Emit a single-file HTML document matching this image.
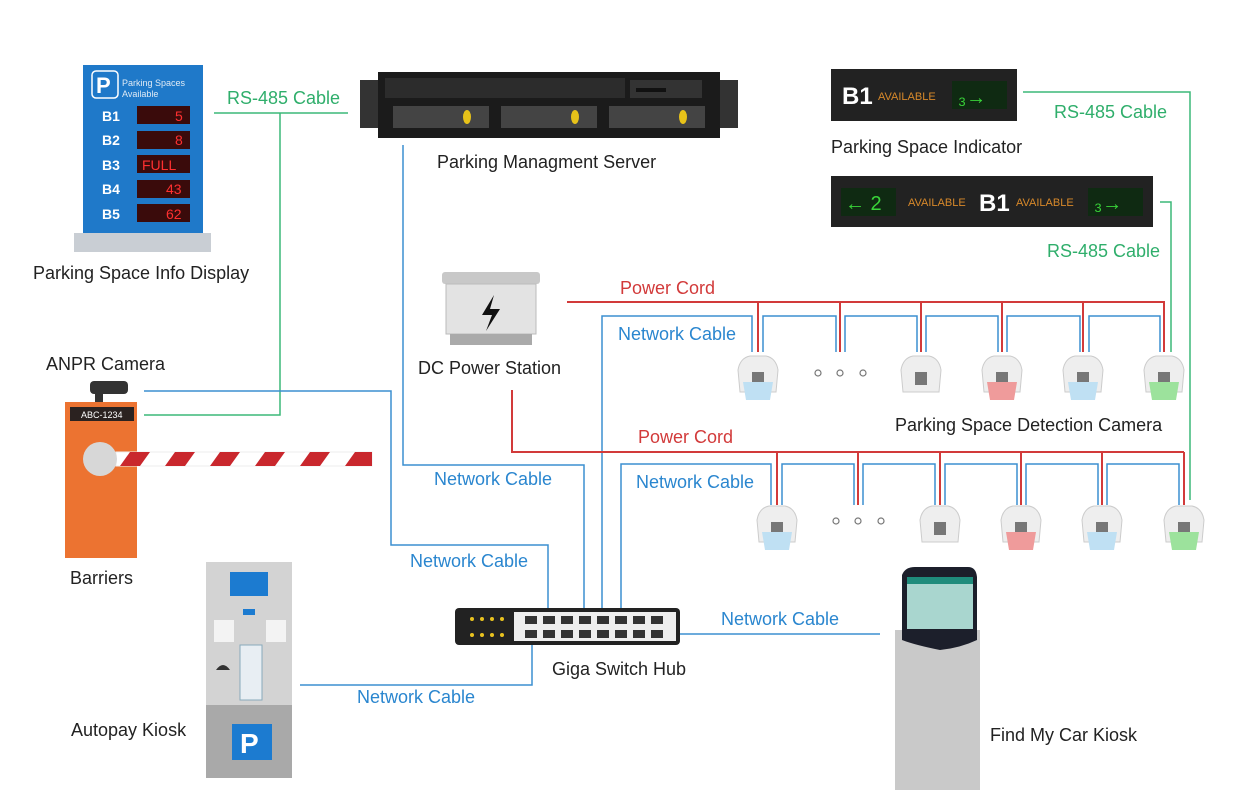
<!DOCTYPE html>
<html><head><meta charset="utf-8"><style>
html,body{margin:0;padding:0;background:#fff}
svg{display:block}
text{font-family:"Liberation Sans",sans-serif}
</style></head><body>
<svg width="1235" height="800" viewBox="0 0 1235 800" xmlns="http://www.w3.org/2000/svg">
<rect width="1235" height="800" fill="#fff"/>
<g fill="none" stroke-width="1.5">
<path d="M214 113H348M280 113V415H144" stroke="#3cb878"/>
<path d="M1023 92H1190V500" stroke="#3cb878"/>
<path d="M1160 202H1171V352" stroke="#3cb878"/>
<path d="M144 391H391V545H548V612" stroke="#3b8fd0"/>
<path d="M403 145V465H584V612" stroke="#3b8fd0"/>
<path d="M602 612V316H752V352" stroke="#3b8fd0"/>
<path d="M621 612V464H771V505" stroke="#3b8fd0"/>
<path d="M532 642V685H300" stroke="#3b8fd0"/>
<path d="M676 634H880" stroke="#3b8fd0"/>
<path d="M763 352V316H836V352M845 352V316H917V352M926 352V316H998V352M1007 352V316H1080V352M1089 352V316H1160V352" stroke="#3b8fd0"/>
<path d="M782 505V464H854V505M863 505V464H935V505M945 505V464H1017V505M1026 505V464H1098V505M1107 505V464H1179V505" stroke="#3b8fd0"/>
</g>
<g fill="none" stroke="#d23a3a" stroke-width="2">
<path d="M567 302H1165M758 302V352M840 302V352M921 302V352M1002 302V352M1083 302V352M1164 302V352"/>
<path d="M512 390V452H1184M777 452V505M858 452V505M940 452V505M1021 452V505M1102 452V505M1184 452V505"/>
</g>
<!-- info display -->
<rect x="74" y="233" width="137" height="19" fill="#c9ced4"/>
<rect x="83" y="65" width="120" height="168" fill="#1f79c9"/>
<rect x="92" y="71" width="26" height="27" rx="4" fill="none" stroke="#fff" stroke-width="1.5"/>
<text x="96" y="93" fill="#fff" font-size="22" font-weight="bold">P</text>
<text x="122" y="86" fill="#dfeaf5" font-size="9">Parking Spaces</text>
<text x="122" y="97" fill="#dfeaf5" font-size="9">Available</text>
<g fill="#fff" font-size="14" font-weight="bold"><text x="102" y="121">B1</text><text x="102" y="145">B2</text><text x="102" y="170">B3</text><text x="102" y="194">B4</text><text x="102" y="219">B5</text></g>
<g fill="#3a0b0b"><rect x="137" y="106" width="53" height="18"/><rect x="137" y="131" width="53" height="18"/><rect x="137" y="155" width="53" height="18"/><rect x="137" y="180" width="53" height="18"/><rect x="137" y="204" width="53" height="18"/></g>
<g fill="#ff3030" font-size="14" font-family="Liberation Mono"><text x="175" y="121">5</text><text x="175" y="145">8</text><text x="142" y="170">FULL</text><text x="166" y="194">43</text><text x="166" y="219">62</text></g>
<text x="33" y="279" font-size="18" fill="#222">Parking Space Info Display</text>
<text x="227" y="104" font-size="18" fill="#2fae6b">RS-485 Cable</text>
<!-- server -->
<rect x="360" y="80" width="18" height="48" fill="#333"/><rect x="720" y="80" width="18" height="48" fill="#333"/>
<rect x="378" y="72" width="342" height="66" fill="#1b1b1b"/>
<rect x="385" y="78" width="240" height="20" fill="#2c2c2c"/>
<rect x="630" y="80" width="72" height="18" fill="#333"/><rect x="636" y="88" width="30" height="4" fill="#111"/>
<rect x="393" y="106" width="96" height="22" fill="#444"/><rect x="501" y="106" width="96" height="22" fill="#444"/><rect x="609" y="106" width="96" height="22" fill="#444"/>
<ellipse cx="467" cy="117" rx="4" ry="7" fill="#e7c219"/><ellipse cx="575" cy="117" rx="4" ry="7" fill="#e7c219"/><ellipse cx="683" cy="117" rx="4" ry="7" fill="#e7c219"/>
<text x="437" y="168" font-size="18" fill="#222">Parking Managment Server</text>
<!-- indicators -->
<rect x="831" y="69" width="186" height="52" fill="#222"/>
<text x="842" y="104" fill="#fff" font-size="24" font-weight="bold">B1</text>
<text x="878" y="100" fill="#d8892a" font-size="11">AVAILABLE</text>
<rect x="952" y="81" width="55" height="28" fill="#0f2a12"/>
<text x="958" y="104" fill="#39d439" font-size="20">₃→</text>
<text x="831" y="153" font-size="18" fill="#222">Parking Space Indicator</text>
<text x="1054" y="118" font-size="18" fill="#2fae6b">RS-485 Cable</text>
<rect x="831" y="176" width="322" height="51" fill="#222"/>
<rect x="841" y="188" width="55" height="28" fill="#0f2a12"/>
<text x="845" y="210" fill="#39d439" font-size="20">← 2</text>
<text x="908" y="206" fill="#d8892a" font-size="11">AVAILABLE</text>
<text x="979" y="211" fill="#fff" font-size="24" font-weight="bold">B1</text>
<text x="1016" y="206" fill="#d8892a" font-size="11">AVAILABLE</text>
<rect x="1088" y="188" width="55" height="28" fill="#0f2a12"/>
<text x="1094" y="210" fill="#39d439" font-size="20">₃→</text>
<text x="1047" y="257" font-size="18" fill="#2fae6b">RS-485 Cable</text>
<!-- DC power -->
<rect x="442" y="272" width="98" height="12" rx="3" fill="#c8c8c8"/>
<rect x="446" y="284" width="90" height="50" fill="#e3e3e3" stroke="#bbb"/>
<rect x="450" y="334" width="82" height="11" fill="#aaa"/>
<path d="M494 295L482 315H492L486 331L500 309H490Z" fill="#111"/>
<text x="418" y="374" font-size="18" fill="#222">DC Power Station</text>
<text x="620" y="294" font-size="18" fill="#d23a3a">Power Cord</text>
<text x="618" y="340" font-size="18" fill="#2a86cf">Network Cable</text>
<text x="638" y="443" font-size="18" fill="#d23a3a">Power Cord</text>
<text x="636" y="488" font-size="18" fill="#2a86cf">Network Cable</text>
<text x="895" y="431" font-size="18" fill="#222">Parking Space Detection Camera</text>
<defs>
<g id="cam"><path d="M-18 22L-20 0Q-18 -12 -8 -14H8Q18 -12 20 0L18 22Z" fill="#eee" stroke="#ccc"/><rect x="-6" y="2" width="12" height="13" fill="#777"/></g>
</defs>
<g>
<use href="#cam" x="758" y="370"/><path d="M743 382H773L770 400H746Z" fill="#bfe0f3"/>
<use href="#cam" x="921" y="370"/>
<use href="#cam" x="1002" y="370"/><path d="M987 382H1017L1014 400H990Z" fill="#ef9b9b"/>
<use href="#cam" x="1083" y="370"/><path d="M1068 382H1098L1095 400H1071Z" fill="#bfe0f3"/>
<use href="#cam" x="1164" y="370"/><path d="M1149 382H1179L1176 400H1152Z" fill="#9ce29c"/>
<use href="#cam" x="777" y="520"/><path d="M762 532H792L789 550H765Z" fill="#bfe0f3"/>
<use href="#cam" x="940" y="520"/>
<use href="#cam" x="1021" y="520"/><path d="M1006 532H1036L1033 550H1009Z" fill="#ef9b9b"/>
<use href="#cam" x="1102" y="520"/><path d="M1087 532H1117L1114 550H1090Z" fill="#bfe0f3"/>
<use href="#cam" x="1184" y="520"/><path d="M1169 532H1199L1196 550H1172Z" fill="#9ce29c"/>
</g>
<g fill="none" stroke="#777" stroke-width="1.2"><circle cx="818" cy="373" r="3"/><circle cx="840" cy="373" r="3"/><circle cx="863" cy="373" r="3"/><circle cx="836" cy="521" r="3"/><circle cx="858" cy="521" r="3"/><circle cx="881" cy="521" r="3"/></g>
<text x="46" y="370" font-size="18" fill="#222">ANPR Camera</text>
<rect x="90" y="381" width="38" height="13" rx="4" fill="#333"/><rect x="95" y="394" width="8" height="8" fill="#333"/>
<rect x="65" y="402" width="72" height="156" fill="#ec7331"/>
<rect x="70" y="407" width="64" height="14" fill="#2b2220"/>
<text x="81" y="418" fill="#fff" font-size="9">ABC-1234</text>
<rect x="116" y="452" width="256" height="14" fill="#fff" stroke="#eee"/>
<g fill="#c9272d"><path d="M120 466L130 452H150L140 466Z"/><path d="M165 466L175 452H195L185 466Z"/><path d="M210 466L220 452H240L230 466Z"/><path d="M255 466L265 452H285L275 466Z"/><path d="M300 466L310 452H330L320 466Z"/><path d="M345 466L355 452H372V466Z"/></g>
<circle cx="100" cy="459" r="17" fill="#d7d7d7"/>
<text x="70" y="584" font-size="18" fill="#222">Barriers</text>
<text x="434" y="485" font-size="18" fill="#2a86cf">Network Cable</text>
<text x="410" y="567" font-size="18" fill="#2a86cf">Network Cable</text>
<text x="721" y="625" font-size="18" fill="#2a86cf">Network Cable</text>
<text x="357" y="703" font-size="18" fill="#2a86cf">Network Cable</text>
<rect x="455" y="608" width="225" height="37" rx="4" fill="#222"/>
<rect x="514" y="612" width="162" height="29" fill="#eee"/>
<g fill="#e8c21f"><circle cx="472" cy="619" r="2"/><circle cx="482" cy="619" r="2"/><circle cx="492" cy="619" r="2"/><circle cx="502" cy="619" r="2"/><circle cx="472" cy="635" r="2"/><circle cx="482" cy="635" r="2"/><circle cx="492" cy="635" r="2"/><circle cx="502" cy="635" r="2"/></g>
<g fill="#333"><rect x="525" y="616" width="12" height="8"/><rect x="543" y="616" width="12" height="8"/><rect x="561" y="616" width="12" height="8"/><rect x="579" y="616" width="12" height="8"/><rect x="597" y="616" width="12" height="8"/><rect x="615" y="616" width="12" height="8"/><rect x="633" y="616" width="12" height="8"/><rect x="651" y="616" width="12" height="8"/>
<rect x="525" y="630" width="12" height="8"/><rect x="543" y="630" width="12" height="8"/><rect x="561" y="630" width="12" height="8"/><rect x="579" y="630" width="12" height="8"/><rect x="597" y="630" width="12" height="8"/><rect x="615" y="630" width="12" height="8"/><rect x="633" y="630" width="12" height="8"/><rect x="651" y="630" width="12" height="8"/></g>
<text x="552" y="675" font-size="18" fill="#222">Giga Switch Hub</text>
<rect x="206" y="562" width="86" height="143" fill="#d3d3d3"/>
<rect x="206" y="705" width="86" height="73" fill="#a9a9a9"/>
<rect x="230" y="572" width="38" height="24" fill="#1c7bd0"/>
<rect x="243" y="609" width="12" height="6" fill="#1c7bd0"/>
<rect x="214" y="620" width="20" height="22" fill="#f3f3f3"/><rect x="266" y="620" width="20" height="22" fill="#f3f3f3"/>
<rect x="240" y="645" width="22" height="55" fill="#e8eef3" stroke="#8ab"/>
<path d="M216 670Q223 660 230 670Z" fill="#333"/>
<rect x="232" y="724" width="40" height="36" fill="#1c7bd0"/>
<text x="240" y="753" fill="#fff" font-size="28" font-weight="bold">P</text>
<text x="71" y="736" font-size="18" fill="#222">Autopay Kiosk</text>
<rect x="895" y="630" width="85" height="160" fill="#c9c9c9"/>
<path d="M902 575Q905 567 915 567H968Q976 567 977 577V640Q960 648 940 650Q915 645 902 640Z" fill="#1c1f2b"/>
<rect x="907" y="577" width="66" height="52" fill="#a9d6cf"/>
<rect x="907" y="577" width="66" height="7" fill="#1f8c7c"/>
<text x="990" y="741" font-size="18" fill="#222">Find My Car Kiosk</text>
</svg>
</body></html>
